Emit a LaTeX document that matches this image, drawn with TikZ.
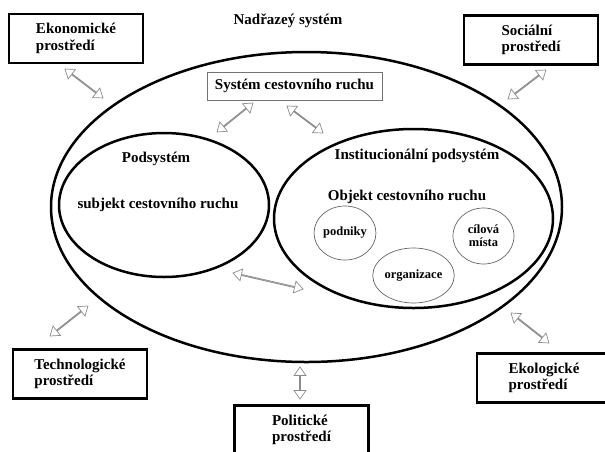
\documentclass[tikz,border=0pt]{standalone}
\usepackage{fontspec}
\setmainfont{Liberation Serif}
\usetikzlibrary{shapes, shapes.geometric, shapes.arrows, calc}
\tikzset{
  envbox/.style={
    rectangle, draw=black, fill=white, line width=2.8pt,
    minimum width=134pt, minimum height=49pt,
    align=left, font=\fontsize{15}{16.5}\selectfont\bfseries, inner sep=2pt,
  },
  sysbox/.style={
    rectangle, draw=black!55, fill=white, line width=0.8pt,
    minimum width=175pt, minimum height=28pt,
    font=\fontsize{15}{16.5}\selectfont\bfseries, inner sep=2pt,
  },
  bigell/.style={
    ellipse, draw=black, line width=2.5pt, inner sep=0pt,
  },
  smallcirc/.style={
    ellipse, draw=black!60, line width=0.7pt, inner sep=0pt,
    align=center, font=\fontsize{12.5}{13}\selectfont\bfseries,
  },
  harrow/.style={
    double arrow, draw=black!45, fill=white, line width=0.7pt,
    inner sep=0pt, minimum width=12pt, double arrow head extend=3.5pt,
    double arrow tip angle=70,
  },
  tlabel/.style={
    font=\fontsize{15}{16.5}\selectfont\bfseries, align=center,
  }
}
% hollow two-way arrow between two named coordinates
\newcommand{\bothways}[2]{%
  \path let \p1=($(#2)-(#1)$), \n1={veclen(\x1,\y1)} in
    (#1) -- (#2) node[harrow, midway, sloped, minimum height=\n1] {};}

\begin{document}
\begin{tikzpicture}[x=1pt, y=-1pt]

  \path[use as bounding box, clip] (0,0) rectangle (605,451);

  % nested systems
  \node[bigell, minimum width=511pt, minimum height=310pt] (nad) at (306.5,207) {};
  \node[bigell, minimum width=210pt, minimum height=144pt] (pod) at (164,205) {};
  \node[bigell, minimum width=279pt, minimum height=179pt] (ins) at (413.5,218.5) {};

  \node[tlabel] (nadlbl) at (288,21)  {Nadřazeý systém};
  \node[sysbox] (sys)    at (294.5,86) {Systém cestovního ruchu};

  \node[tlabel] (podlbl) at (156,159) {Podsystém};
  \node[tlabel] (subj)   at (158,205) {subjekt cestovního ruchu};

  \node[tlabel] (inslbl) at (417,156) {Institucionální podsystém};
  \node[tlabel] (obj)    at (407,197) {Objekt cestovního ruchu};

  \node[smallcirc, minimum width=60pt, minimum height=54pt] (podn) at (345,233)   {podniky};
  \node[smallcirc, minimum width=61pt, minimum height=55pt] (org)  at (413.5,275.5) {organizace};
  \node[smallcirc, minimum width=61pt, minimum height=56pt] (cil)  at (483.5,236) {cílová\\místa};

  % environments
  \node[envbox] (ekon) at (76,38.5)   {Ekonomické\\prostředí};
  \node[envbox] (soc)  at (531,40)    {Sociální\\prostředí};
  \node[envbox] (tech) at (80,374)    {Technologické\\prostředí};
  \node[envbox] (ekol) at (544,378)   {Ekologické\\prostředí};
  \node[envbox] (pol)  at (301.5,430) {Politické\\prostředí};

  % arrow ends
  \coordinate (ekonA) at (65,69);   \coordinate (ekonB) at (103,98);
  \coordinate (socA)  at (546,70);  \coordinate (socB)  at (508,99);
  \coordinate (sysL)  at (253,103); \coordinate (podT)  at (217,132);
  \coordinate (sysR)  at (287,106); \coordinate (insT)  at (323,133);
  \coordinate (podB)  at (233,273); \coordinate (insB)  at (303,289);
  \coordinate (techA) at (88,306);  \coordinate (techB) at (50,336);
  \coordinate (ekolA) at (511,313); \coordinate (ekolB) at (549,343);
  \coordinate (polA)  at (300,367); \coordinate (polB)  at (300,399);

  \bothways{ekonA}{ekonB}
  \bothways{socA}{socB}
  \bothways{sysL}{podT}
  \bothways{sysR}{insT}
  \bothways{podB}{insB}
  \bothways{techA}{techB}
  \bothways{ekolA}{ekolB}
  \bothways{polA}{polB}

\end{tikzpicture}
\end{document}
